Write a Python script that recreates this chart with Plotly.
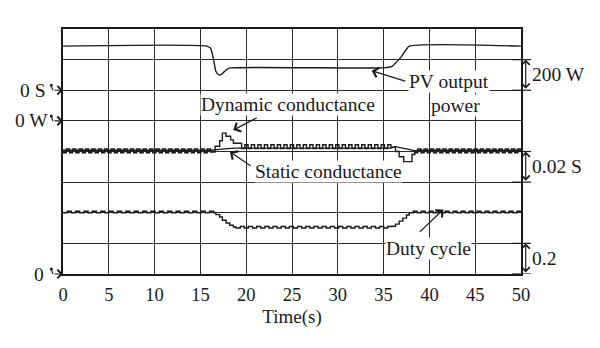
import plotly.graph_objects as go

# ---------------- data ----------------
time_ticks = [0, 5, 10, 15, 20, 25, 30, 35, 40, 45, 50]

# PV output power (W)
pv_t = [0, 15.7, 16.1, 16.45, 16.7, 17.0, 17.35, 17.9, 18.3, 34.9, 35.9, 36.3, 36.9, 37.4, 37.8, 50]
pv_w = [488, 488, 475, 398, 322, 300, 306, 337, 346, 346, 354, 378, 416, 460, 488, 488]

# Static conductance (S)
gs_t = [0, 16.2, 17.0, 18.0, 18.8, 35.8, 36.3, 38.4, 39.0, 50]
gs_v = [-0.0392, -0.0392, -0.0386, -0.0380, -0.0378, -0.0378, -0.0368, -0.0394, -0.0392, -0.0392]

# Dynamic conductance (S): dither levels per half-cycle, plus transient steps
gd_seg1 = [-0.0408, -0.0384, -0.0408, -0.0384, -0.0408, -0.0384, -0.0408, -0.0384, -0.0408, -0.0384,
           -0.0408, -0.0384, -0.0408, -0.0384, -0.0408, -0.0384, -0.0408, -0.0384, -0.0408, -0.0384,
           -0.0408, -0.0384, -0.0408, -0.0384, -0.0408, -0.0384, -0.0408, -0.0384, -0.0408, -0.0384,
           -0.0408, -0.0384, -0.0408, -0.0384, -0.0408, -0.0384, -0.0408, -0.0384, -0.0408, -0.0384,
           -0.0408, -0.0384, -0.0408, -0.0384, -0.0408, -0.0384]
gd_jump1_t = [16.1, 16.6, 17.1, 17.4, 17.8, 18.3, 18.6]
gd_jump1_v = [-0.0404, -0.0366, -0.0330, -0.0280, -0.0300, -0.0324, -0.0346]
gd_seg2 = [-0.0380, -0.0356, -0.0380, -0.0356, -0.0380, -0.0356, -0.0380, -0.0356, -0.0380, -0.0356,
           -0.0380, -0.0356, -0.0380, -0.0356, -0.0380, -0.0356, -0.0380, -0.0356, -0.0380, -0.0356,
           -0.0380, -0.0356, -0.0380, -0.0356, -0.0380, -0.0356, -0.0380, -0.0356, -0.0380, -0.0356,
           -0.0380, -0.0356, -0.0380, -0.0356, -0.0380, -0.0356, -0.0380, -0.0356, -0.0380, -0.0356,
           -0.0380, -0.0356, -0.0380, -0.0356, -0.0380, -0.0356]
gd_jump2_t = [35.8, 36.3, 36.7, 37.2, 38.1]
gd_jump2_v = [-0.0372, -0.0400, -0.0434, -0.0466, -0.0420]
gd_seg3 = [-0.0408, -0.0384, -0.0408, -0.0384, -0.0408, -0.0384, -0.0408, -0.0384, -0.0408, -0.0384,
           -0.0408, -0.0384, -0.0408, -0.0384, -0.0408, -0.0384, -0.0408, -0.0384, -0.0408, -0.0384,
           -0.0408, -0.0384, -0.0408, -0.0384, -0.0408, -0.0384, -0.0408, -0.0384, -0.0408, -0.0384,
           -0.0408, -0.0384, -0.0408, -0.0384]
gd_spans = [(0.0, 16.1), (19.5, 35.8), (38.4, 50.0)]

# Duty cycle: dither levels per half-cycle, plus transient steps
d_seg1 = [0.400, 0.410, 0.400, 0.410, 0.400, 0.410, 0.400, 0.410, 0.400, 0.410,
          0.400, 0.410, 0.400, 0.410, 0.400, 0.410, 0.400, 0.410, 0.400, 0.410,
          0.400, 0.410, 0.400, 0.410, 0.400, 0.410, 0.400, 0.410, 0.400, 0.410,
          0.400, 0.410, 0.400, 0.410, 0.400, 0.410]
d_jump1_t = [16.45, 16.7, 17.1, 17.4, 17.8, 18.2, 18.6]
d_jump1_v = [0.400, 0.388, 0.372, 0.351, 0.333, 0.318, 0.307]
d_seg2 = [0.300, 0.310, 0.300, 0.310, 0.300, 0.310, 0.300, 0.310, 0.300, 0.310,
          0.300, 0.310, 0.300, 0.310, 0.300, 0.310, 0.300, 0.310, 0.300, 0.310,
          0.300, 0.310, 0.300, 0.310, 0.300, 0.310, 0.300, 0.310, 0.300, 0.310,
          0.300, 0.310, 0.300, 0.310, 0.300, 0.310, 0.300, 0.310]
d_jump2_t = [35.9, 36.3, 36.7, 37.1, 37.5]
d_jump2_v = [0.312, 0.326, 0.345, 0.365, 0.385]
d_seg3 = [0.400, 0.410, 0.400, 0.410, 0.400, 0.410, 0.400, 0.410, 0.400, 0.410,
          0.400, 0.410, 0.400, 0.410, 0.400, 0.410, 0.400, 0.410, 0.400, 0.410,
          0.400, 0.410, 0.400, 0.410, 0.400, 0.410, 0.400, 0.410]
d_spans = [(0.0, 16.45), (18.9, 35.9), (37.8, 50.0)]


def spread(span, vals):
    t0, t1 = span
    n = len(vals)
    return [t0 + (t1 - t0) * i / n for i in range(n)]


def assemble(spans, segs, jumps):
    ts, vs = [], []
    for k, (span, seg) in enumerate(zip(spans, segs)):
        ts += spread(span, seg)
        vs += seg
        if k < len(jumps):
            ts += jumps[k][0]
            vs += jumps[k][1]
    ts.append(spans[-1][1])
    vs.append(segs[-1][-1])
    return ts, vs


gd_t, gd_v = assemble(gd_spans, [gd_seg1, gd_seg2, gd_seg3],
                      [(gd_jump1_t, gd_jump1_v), (gd_jump2_t, gd_jump2_v)])
d_t, d_v = assemble(d_spans, [d_seg1, d_seg2, d_seg3],
                    [(d_jump1_t, d_jump1_v), (d_jump2_t, d_jump2_v)])

# ---------------- figure ----------------
SERIF = "Liberation Serif, Times New Roman, serif"
INK = "#1a1a1a"
LW = 1.4

fig = go.Figure()
fig.add_trace(go.Scatter(x=pv_t, y=pv_w, mode="lines", yaxis="y2",
                         line=dict(color=INK, width=LW, shape="spline", smoothing=0.6),
                         showlegend=False, hoverinfo="skip"))
fig.add_trace(go.Scatter(x=gs_t, y=gs_v, mode="lines", yaxis="y3",
                         line=dict(color=INK, width=LW), showlegend=False, hoverinfo="skip"))
fig.add_trace(go.Scatter(x=gd_t, y=gd_v, mode="lines", yaxis="y3",
                         line=dict(color=INK, width=LW, shape="hv"), showlegend=False, hoverinfo="skip"))
fig.add_trace(go.Scatter(x=d_t, y=d_v, mode="lines", yaxis="y4",
                         line=dict(color=INK, width=LW, shape="hv"), showlegend=False, hoverinfo="skip"))

annos = []
font = dict(family=SERIF, size=19.5, color=INK)

# text labels
def label(text, x, y, xref="x", yref="y", xanchor="center", bg=True):
    annos.append(dict(text=text, x=x, y=y, xref=xref, yref=yref, xanchor=xanchor,
                      yanchor="middle", showarrow=False, font=font,
                      bgcolor="white" if bg else None, borderpad=0))

label("Dynamic conductance", 24.6, 5.52)
label("Static conductance", 29.0, 3.34)
label("PV output", 42.1, 6.28)
label("power", 42.8, 5.49)
label("Duty cycle", 39.9, 0.84)

# pointer arrows (tip at the curve, tail near the text)
def pointer(x, y, ax, ay):
    annos.append(dict(text="", x=x, y=y, xref="x", yref="y", ax=ax, ay=ay,
                      showarrow=True, arrowhead=4, arrowsize=1.6, arrowwidth=1.2,
                      arrowcolor=INK))

pointer(18.59, 4.70, 25, -13)
pointer(18.23, 3.99, 22, 15)
pointer(33.7, 6.64, 35, 11)
pointer(41.52, 2.11, -25, 24)

# left zero markers
for txt, lvl, xr in [("0 S", 6, -0.035), ("0 W", 5, -0.028), ("0", 0, -0.037)]:
    annos.append(dict(text=txt, x=xr, y=lvl, xref="paper", yref="y", xanchor="right",
                      yanchor="middle", showarrow=False, font=font))
    annos.append(dict(text="", x=0, y=lvl, xref="x", yref="y", ax=-10, ay=0,
                      showarrow=True, arrowhead=4, arrowsize=1.4, arrowwidth=1.2,
                      arrowcolor=INK))

# right scale bars
bar_x = 1.0103
for top, bot, txt in [(7, 6, "200 W"), (4, 3, "0.02 S"), (1, 0, "0.2")]:
    annos.append(dict(text="", x=bar_x, y=top, xref="paper", yref="y",
                      axref="pixel", ayref="y", ax=0, ay=bot,
                      showarrow=True, arrowhead=4, startarrowhead=4, arrowside="end+start",
                      arrowsize=1.3, startarrowsize=1.3, arrowwidth=1.2, arrowcolor=INK))
    annos.append(dict(text=txt, x=1.02, y=(top + bot) / 2, xref="paper", yref="y",
                      xanchor="left", yanchor="middle", showarrow=False, font=font))

shapes = []
for lvl in [7, 6, 4, 3, 1, 0]:
    shapes.append(dict(type="line", xref="paper", yref="y", x0=0.98, x1=1.022,
                       y0=lvl, y1=lvl, line=dict(color=INK, width=1.2)))
# small hooks under the left zero arrows
for lvl in [6, 5, 0]:
    shapes.append(dict(type="path", xref="paper", yref="y", xsizemode="pixel", ysizemode="pixel",
                       xanchor=0, yanchor=lvl, path="M-10,0 Q-11,2 -11.5,4.5",
                       line=dict(color=INK, width=1.2)))
    shapes.append(dict(type="circle", xref="paper", yref="y", xsizemode="pixel", ysizemode="pixel",
                       xanchor=0, yanchor=lvl, x0=-13.2, x1=-10.2, y0=3.5, y1=6.5,
                       fillcolor=INK, line=dict(color=INK, width=0)))

fig.update_layout(
    width=600, height=348,
    margin=dict(l=63, r=79, t=29, b=74),
    paper_bgcolor="white", plot_bgcolor="white",
    font=font,
    annotations=annos, shapes=shapes,
    xaxis=dict(range=[0, 50], tickvals=time_ticks, ticktext=[str(v) for v in time_ticks],
               showgrid=True, gridcolor="#2b2b2b", gridwidth=1.4, zeroline=False,
               showline=True, linecolor=INK, linewidth=1.8, mirror=True,
               ticks="", ticklabelstandoff=3, tickfont=dict(family=SERIF, size=18.5, color=INK),
               title=dict(text="Time(s)", font=dict(family=SERIF, size=19, color=INK), standoff=6)),
    yaxis=dict(range=[0, 8], dtick=1, showticklabels=False, showgrid=True,
               gridcolor="#2b2b2b", gridwidth=1.4, zeroline=False,
               showline=True, linecolor=INK, linewidth=1.8, mirror=True, ticks=""),
    yaxis2=dict(range=[-1000, 600], overlaying="y", visible=False),
    yaxis3=dict(range=[-0.12, 0.04], overlaying="y", visible=False),
    yaxis4=dict(range=[0, 1.6], overlaying="y", visible=False),
)

fig.write_html("out.html")
